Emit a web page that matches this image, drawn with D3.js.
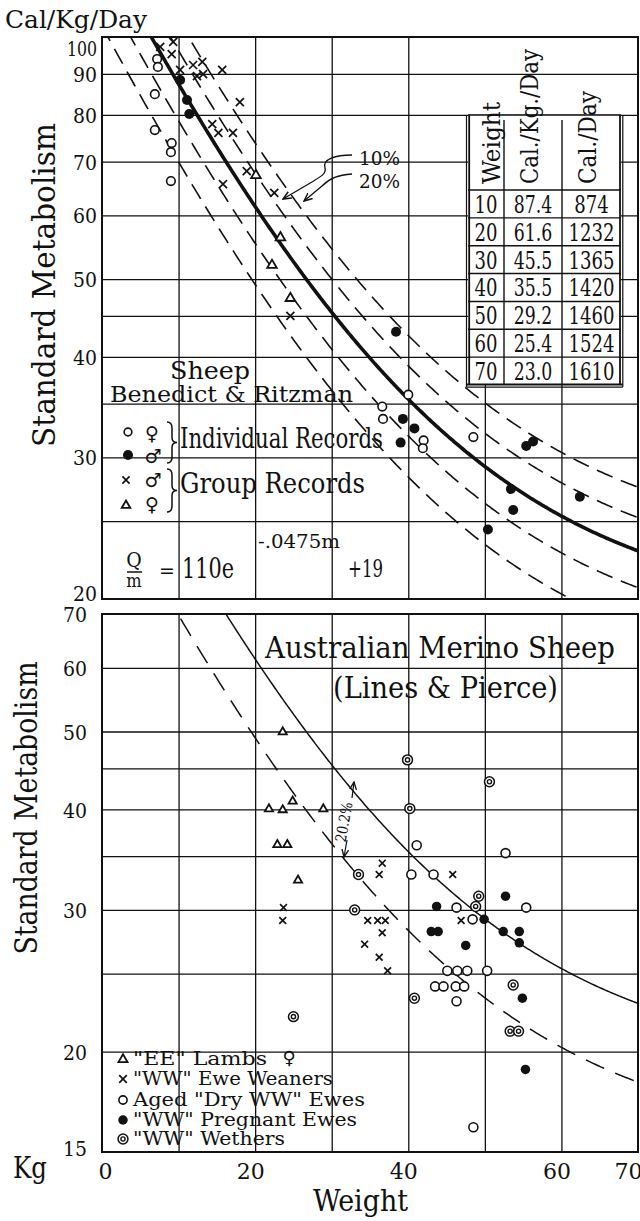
<!DOCTYPE html>
<html>
<head>
<meta charset="utf-8">
<script src="https://cdn.jsdelivr.net/npm/d3@7/dist/d3.min.js"></script>
<style>
  body { margin: 0; background: #fff; }
  svg { display: block; }
  text { font-family: 'DejaVu Serif Condensed', 'DejaVu Serif', serif; fill: #111; }
  .sym { font-family: 'DejaVu Sans', sans-serif; }
</style>
</head>
<body>
<svg id="chart" width="640" height="1221"></svg>
<script>
// fit drawn in both panels: Q/m = 110 e^(-.0475 m) + 19
var fitA = 110, fitK = 0.0475, fitC = 19;
var topBands = [1.2, 1.1, 0.9, 0.8];   // +-10%, +-20%
var lowerBand = 0.798;                 // 20.2% below

// upper panel, Benedict & Ritzman
var topYTicks = [20, 30, 40, 50, 60, 70, 80, 90, 100];
var topYGrid = [25, 30, 35, 40, 45, 50, 60, 70, 80, 90];
var topXGrid = [10, 20, 30, 40];
var topXGridShort = [50, 60];

var indivFemale = [[7.2,93.9],[7.3,91.8],[6.9,84.9],[6.9,76.6],[9.1,73.8],[9.0,71.9],[9.0,66.2],
                   [40.0,35.9],[36.6,34.7],[36.7,33.5],[42.0,31.5],[41.9,30.8],[48.5,31.8]];
var indivMale = [[10.2,88.4],[11.1,83.5],[11.4,80.2],[38.4,43.0],[39.3,33.5],[40.8,32.6],[39.0,31.3],
                 [55.4,31.0],[56.3,31.4],[53.4,27.4],[53.7,25.8],[50.4,24.4],[62.4,26.8]];
var groupMale = [[7.6,97.2],[9.1,95.2],[9.3,98.6],[10.2,91.0],[11.9,92.3],[13.1,93.1],[13.2,89.9],
                 [12.4,89.4],[15.7,91.0],[18.0,83.0],[14.4,77.9],[15.2,76.0],[17.1,76.0],[15.8,65.6],
                 [18.9,68.1],[22.5,64.0],[24.6,45.0]];
var groupFemale = [[20.1,67.4],[23.3,56.4],[22.2,52.1],[24.6,47.4]];

var tblHead = ["Weight", "Cal./Kg./Day", "Cal./Day"];
var tblWeight = ["10", "20", "30", "40", "50", "60", "70"];
var tblPerKg = ["87.4", "61.6", "45.5", "35.5", "29.2", "25.4", "23.0"];
var tblPerDay = ["874", "1232", "1365", "1420", "1460", "1524", "1610"];

// lower panel, Lines & Pierce
var botYTicks = [15, 20, 30, 40, 50, 60, 70];
var botYGrid = [20, 25, 30, 35, 40, 45, 50, 60];
var botXTicks = [0, 20, 40, 60, 70];
var botXGrid = [10, 20, 30, 40, 50, 60];

var lambs = [[23.6,50.0],[21.8,40.1],[23.6,40.0],[24.9,41.0],[28.9,40.1],[22.9,36.2],[24.2,36.2],[25.6,32.7]];
var weaners = [[23.7,30.2],[23.6,29.1],[36.6,34.3],[36.2,33.2],[45.8,33.2],[34.7,29.1],[36.0,29.1],
               [37.0,29.1],[36.6,28.1],[34.3,27.2],[36.2,26.2],[37.3,25.2],[46.9,29.1]];
var dryEwes = [[41.1,36.1],[52.7,35.3],[40.4,33.2],[43.3,33.2],[46.3,30.2],[55.4,30.2],[48.4,29.2],
               [45.1,25.2],[46.4,25.2],[47.7,25.2],[50.3,25.2],[43.5,24.1],[44.6,24.1],[46.2,24.1],
               [47.3,24.1],[46.3,23.1],[48.5,16.1]];
var pregnant = [[52.7,31.2],[43.7,30.3],[49.9,29.2],[43.0,28.2],[43.9,28.2],[52.4,28.2],[54.5,28.2],
                [47.5,27.1],[54.5,27.3],[54.9,23.3],[55.3,19.0]];
var wethers = [[39.9,46.1],[50.6,43.3],[40.2,40.1],[33.5,33.2],[33.0,30.0],[49.2,31.2],[48.8,30.3],
               [25.0,22.1],[40.8,23.3],[53.7,24.2],[53.3,21.2],[54.4,21.2]];
var botLegend = ['"EE" Lambs', '"WW" Ewe Weaners', 'Aged "Dry WW" Ewes', '"WW" Pregnant Ewes', '"WW" Wethers'];
var botLegendKind = ["tri", "cross", "open", "filled", "wether"];

var ink = "#111";
var svg = d3.select("#chart");
var defs = svg.append("defs");

var x = d3.scaleLinear().domain([0, 70]).range([102, 638]);
var yTop = d3.scaleLog().domain([20, 100]).range([599, 37]);
var yBot = d3.scaleLog().domain([15, 70]).range([1152, 614]);
var tblL = 468, tblR = 621, tblT = 115, tblHB = 190, tblB = 385;
var tblCols = [468, 504, 562, 621];

defs.append("clipPath").attr("id", "clipTop").append("rect")
    .attr("x", x(0)).attr("y", yTop(100)).attr("width", x(70) - x(0)).attr("height", yTop(20) - yTop(100));
defs.append("clipPath").attr("id", "clipBot").append("rect")
    .attr("x", x(0)).attr("y", yBot(70)).attr("width", x(70) - x(0)).attr("height", yBot(15) - yBot(70));
defs.append("marker").attr("id", "arr").attr("viewBox", "0 0 10 10")
    .attr("refX", 9).attr("refY", 5).attr("markerWidth", 7).attr("markerHeight", 7)
    .attr("orient", "auto-start-reverse")
    .append("path").attr("d", "M0,1 L9,5 L0,9").attr("fill", "none")
    .attr("stroke", ink).attr("stroke-width", 1.6);

function fit(m) { return fitA * Math.exp(-fitK * m) + fitC; }
var ms = d3.range(0, 70.001, 0.2);

function gridStyle(g, w) {
    g.select(".domain").remove();
    g.selectAll("line").attr("stroke", ink).attr("stroke-width", w);
}

function mark(g, kind, cx, cy, s) {
    if (kind === "open") {
        g.append("circle").attr("cx", cx).attr("cy", cy).attr("r", 4.3 * s)
            .attr("fill", "#fff").attr("stroke", ink).attr("stroke-width", 1.6);
    } else if (kind === "filled") {
        g.append("circle").attr("cx", cx).attr("cy", cy).attr("r", 5 * s).attr("fill", ink);
    } else if (kind === "cross") {
        var a = 4 * s;
        g.append("path").attr("d", "M" + (cx - a) + "," + (cy - a) + "L" + (cx + a) + "," + (cy + a) +
            "M" + (cx + a) + "," + (cy - a) + "L" + (cx - a) + "," + (cy + a))
            .attr("stroke", ink).attr("stroke-width", 1.7).attr("fill", "none");
    } else if (kind === "tri") {
        g.append("path").attr("d", "M" + cx + "," + (cy - 5 * s) + "L" + (cx + 4.8 * s) + "," + (cy + 3.3 * s) +
            "L" + (cx - 4.8 * s) + "," + (cy + 3.3 * s) + "Z")
            .attr("fill", "#fff").attr("stroke", ink).attr("stroke-width", 1.8);
    } else if (kind === "wether") {
        g.append("circle").attr("cx", cx).attr("cy", cy).attr("r", 5.2 * s)
            .attr("fill", "#fff").attr("stroke", ink).attr("stroke-width", 1.5);
        g.append("circle").attr("cx", cx).attr("cy", cy).attr("r", 2.2 * s)
            .attr("fill", "none").attr("stroke", ink).attr("stroke-width", 1.4);
    }
}

function label(str, px, py, size, opts) {
    opts = opts || {};
    var t = svg.append("text").attr("x", px).attr("y", py).attr("font-size", size).text(str);
    if (opts.anchor) t.attr("text-anchor", opts.anchor);
    if (opts.len) t.attr("textLength", opts.len).attr("lengthAdjust", "spacingAndGlyphs");
    if (opts.rot !== undefined) t.attr("transform", "rotate(" + opts.rot + "," + px + "," + py + ")");
    if (opts.cls) t.attr("class", opts.cls);
    return t;
}

function bracePath(x0, y1, y2, w) {
    var ym = (y1 + y2) / 2, h = w / 2;
    return "M" + x0 + "," + y1 + " Q" + (x0 + h) + "," + y1 + " " + (x0 + h) + "," + (y1 + 6) +
        " L" + (x0 + h) + "," + (ym - 5) + " Q" + (x0 + h) + "," + ym + " " + (x0 + w) + "," + ym +
        " Q" + (x0 + h) + "," + ym + " " + (x0 + h) + "," + (ym + 5) +
        " L" + (x0 + h) + "," + (y2 - 6) + " Q" + (x0 + h) + "," + y2 + " " + x0 + "," + y2;
}

// ================= upper panel =================
var gT = svg.append("g");
gT.append("g").attr("transform", "translate(" + x(0) + ",0)")
    .call(d3.axisLeft(yTop).tickValues(topYGrid).tickSize(-(x(70) - x(0))).tickFormat(""))
    .call(gridStyle, 1.3);
gT.append("g").attr("transform", "translate(0," + yTop(20) + ")")
    .call(d3.axisBottom(x).tickValues(topXGrid).tickSize(-(yTop(20) - yTop(100))).tickFormat(""))
    .call(gridStyle, 1.3);
gT.append("g").attr("transform", "translate(0," + yTop(20) + ")")
    .call(d3.axisBottom(x).tickValues(topXGridShort).tickSize(-(yTop(20) - tblB)).tickFormat(""))
    .call(gridStyle, 1.3);

// y labels
var topLab = gT.append("g").attr("transform", "translate(97,0)")
    .call(d3.axisLeft(yTop).tickValues(topYTicks).tickSize(0).tickPadding(0).tickFormat(d3.format("d")));
topLab.select(".domain").remove();
topLab.attr("font-family", null).attr("font-size", null);
topLab.selectAll("text").attr("font-size", 21).attr("fill", ink)
    .attr("dy", function (d) { return d === 100 ? "0.9em" : d === 20 ? "0.05em" : "0.36em"; })
    .attr("textLength", function (d) { return d === 100 ? 30 : 24; })
    .attr("lengthAdjust", "spacingAndGlyphs");

// table
gT.append("rect").attr("x", tblL).attr("y", tblT).attr("width", tblR - tblL).attr("height", tblB - tblT)
    .attr("fill", "#fff");
var tb = gT.append("g").attr("stroke", ink).attr("fill", "none");
tb.append("line").attr("x1", tblL).attr("x2", tblR).attr("y1", tblT).attr("y2", tblT).attr("stroke-width", 1.4);
tb.append("line").attr("x1", tblL - 1.5).attr("x2", tblL - 1.5).attr("y1", tblT).attr("y2", tblB + 2).attr("stroke-width", 1.2);
tb.append("line").attr("x1", tblL + 1.2).attr("x2", tblL + 1.2).attr("y1", tblT).attr("y2", tblB).attr("stroke-width", 1.8);
tb.append("line").attr("x1", tblR - 1).attr("x2", tblR - 1).attr("y1", tblT).attr("y2", tblB).attr("stroke-width", 1.8);
tb.append("line").attr("x1", tblR + 1.8).attr("x2", tblR + 1.8).attr("y1", tblT).attr("y2", tblB + 2).attr("stroke-width", 1.2);
tb.append("line").attr("x1", tblL - 1.5).attr("x2", tblR + 1.8).attr("y1", tblB - 0.5).attr("y2", tblB - 0.5).attr("stroke-width", 1.8);
tb.append("line").attr("x1", tblL - 1.5).attr("x2", tblR + 1.8).attr("y1", tblB + 2.2).attr("y2", tblB + 2.2).attr("stroke-width", 1.2);
[tblCols[1], tblCols[2]].forEach(function (cx) {
    tb.append("line").attr("x1", cx).attr("x2", cx).attr("y1", tblT + 5).attr("y2", tblB).attr("stroke-width", 1.4);
});
var rowH = (tblB - tblHB) / tblWeight.length;
d3.range(tblWeight.length).forEach(function (i) {
    tb.append("line").attr("x1", tblL).attr("x2", tblR).attr("y1", tblHB + i * rowH).attr("y2", tblHB + i * rowH)
        .attr("stroke-width", 1.4);
});
var headX = [500, 538, 596], headLen = [82, 135, 93];
tblHead.forEach(function (h, i) {
    label(h, headX[i], tblHB - 6, 25, { rot: -90, len: headLen[i] });
});
function numLen(s) { return s.replace(".", "").length * 11.5 + (s.indexOf(".") >= 0 ? 4 : 0); }
tblWeight.forEach(function (w, i) {
    var by = tblHB + (i + 1) * rowH - 5;
    label(w, (tblCols[0] + tblCols[1]) / 2, by, 24, { anchor: "middle", len: numLen(w) });
    label(tblPerKg[i], (tblCols[1] + tblCols[2]) / 2, by, 24, { anchor: "middle", len: numLen(tblPerKg[i]) });
    label(tblPerDay[i], (tblCols[2] + tblCols[3]) / 2, by, 24, { anchor: "middle", len: numLen(tblPerDay[i]) });
});

// curves
var lineT = d3.line().x(function (d) { return x(d[0]); }).y(function (d) { return yTop(d[1]); });
var cT = gT.append("g").attr("clip-path", "url(#clipTop)").attr("fill", "none").attr("stroke", ink);
topBands.forEach(function (b) {
    cT.append("path").attr("d", lineT(ms.map(function (m) { return [m, fit(m) * b]; })))
        .attr("stroke-width", 1.6).attr("stroke-dasharray", "17,9");
});
cT.append("path").attr("d", lineT(ms.map(function (m) { return [m, fit(m)]; })))
    .attr("stroke-width", 3.6);

// points
var pT = gT.append("g");
indivFemale.forEach(function (d) { mark(pT, "open", x(d[0]), yTop(d[1]), 1); });
indivMale.forEach(function (d) { mark(pT, "filled", x(d[0]), yTop(d[1]), 1); });
groupMale.forEach(function (d) { mark(pT, "cross", x(d[0]), yTop(d[1]), 1); });
groupFemale.forEach(function (d) { mark(pT, "tri", x(d[0]), yTop(d[1]), 1); });

// 10% / 20% leaders
gT.append("path").attr("d", "M352,155 C336,155 322,159 325,168 C327,175 318,178 300,189 L283,199")
    .attr("fill", "none").attr("stroke", ink).attr("stroke-width", 1.3).attr("marker-end", "url(#arr)");
gT.append("path").attr("d", "M352,174 C338,175 330,178 322,186 L304,201")
    .attr("fill", "none").attr("stroke", ink).attr("stroke-width", 1.3).attr("marker-end", "url(#arr)");
label("10%", 359, 165, 19, { len: 41 });
label("20%", 359, 188, 19, { len: 41 });

// legend and formula
label("Sheep", 170, 379, 24, { len: 80 });
label("Benedict & Ritzman", 110, 402, 22, { len: 243 });
mark(gT, "open", 128, 432, 0.9);
mark(gT, "filled", 128, 455, 1);
mark(gT, "cross", 126, 480, 0.9);
mark(gT, "tri", 126, 505, 0.9);
label("\u2640", 152, 440, 19, { anchor: "middle", cls: "sym" });
label("\u2642", 153, 463, 19, { anchor: "middle", cls: "sym" });
label("\u2642", 153, 487, 19, { anchor: "middle", cls: "sym" });
label("\u2640", 152, 511, 19, { anchor: "middle", cls: "sym" });
gT.append("path").attr("d", bracePath(167, 422, 463, 10)).attr("fill", "none").attr("stroke", ink).attr("stroke-width", 1.5);
gT.append("path").attr("d", bracePath(167, 469, 512, 10)).attr("fill", "none").attr("stroke", ink).attr("stroke-width", 1.5);
label("Individual Records", 180, 448, 28, { len: 203 });
label("Group Records", 180, 493, 28, { len: 185 });
label("Q", 134, 567, 21, { anchor: "middle" });
gT.append("line").attr("x1", 127).attr("x2", 142).attr("y1", 572).attr("y2", 572).attr("stroke", ink).attr("stroke-width", 1.5);
label("m", 134, 587, 18, { anchor: "middle" });
label("=", 167, 578, 21, { anchor: "middle" });
label("110e", 182, 578, 28, { len: 52 });
label("-.0475m", 258, 548, 19, { len: 82 });
label("+19", 348, 577, 25, { len: 35 });

gT.append("rect").attr("x", x(0)).attr("y", yTop(100)).attr("width", x(70) - x(0)).attr("height", yTop(20) - yTop(100))
    .attr("fill", "none").attr("stroke", ink).attr("stroke-width", 2);

label("Cal/Kg/Day", 5, 28, 25, { len: 142 });
label("Standard Metabolism", 55, 285, 31, { anchor: "middle", rot: -90, len: 324 });

// ================= lower panel =================
var gB = svg.append("g");
gB.append("g").attr("transform", "translate(" + x(0) + ",0)")
    .call(d3.axisLeft(yBot).tickValues(botYGrid).tickSize(-(x(70) - x(0))).tickFormat(""))
    .call(gridStyle, 1.3);
gB.append("g").attr("transform", "translate(0," + yBot(15) + ")")
    .call(d3.axisBottom(x).tickValues(botXGrid).tickSize(-(yBot(15) - yBot(70))).tickFormat(""))
    .call(gridStyle, 1.3);

var botLab = gB.append("g").attr("transform", "translate(87,0)")
    .call(d3.axisLeft(yBot).tickValues(botYTicks).tickSize(0).tickPadding(0).tickFormat(d3.format("d")));
botLab.select(".domain").remove();
botLab.attr("font-family", null).attr("font-size", null);
botLab.selectAll("text").attr("font-size", 21).attr("fill", ink)
    .attr("dy", function (d) { return d === 15 ? "0.15em" : "0.36em"; })
    .attr("textLength", 24).attr("lengthAdjust", "spacingAndGlyphs");

var xLab = gB.append("g").attr("transform", "translate(0,1160)")
    .call(d3.axisBottom(x).tickValues(botXTicks).tickSize(0).tickPadding(0).tickFormat(d3.format("d")));
xLab.select(".domain").remove();
xLab.attr("font-family", null).attr("font-size", null);
xLab.selectAll("text").attr("font-size", 22).attr("fill", ink).attr("dy", "0.85em")
    .attr("dx", function (d) { return d === 0 ? 3 : d === 70 ? -10 : -5; })
    .attr("textLength", function (d) { return d === 0 ? 14 : 28; })
    .attr("lengthAdjust", "spacingAndGlyphs");

var lineB = d3.line().x(function (d) { return x(d[0]); }).y(function (d) { return yBot(d[1]); });
var cB = gB.append("g").attr("clip-path", "url(#clipBot)").attr("fill", "none").attr("stroke", ink);
cB.append("path").attr("d", lineB(ms.map(function (m) { return [m, fit(m)]; }))).attr("stroke-width", 1.5);
cB.append("path").attr("d", lineB(ms.map(function (m) { return [m, fit(m) * lowerBand]; })))
    .attr("stroke-width", 1.5).attr("stroke-dasharray", "20,12");

var pB = gB.append("g");
lambs.forEach(function (d) { mark(pB, "tri", x(d[0]), yBot(d[1]), 0.85); });
weaners.forEach(function (d) { mark(pB, "cross", x(d[0]), yBot(d[1]), 0.85); });
dryEwes.forEach(function (d) { mark(pB, "open", x(d[0]), yBot(d[1]), 1.05); });
pregnant.forEach(function (d) { mark(pB, "filled", x(d[0]), yBot(d[1]), 0.95); });
wethers.forEach(function (d) { mark(pB, "wether", x(d[0]), yBot(d[1]), 0.95); });

// 20.2% arrow
label("20.2%", 349, 823, 15, { anchor: "middle", rot: -80, len: 40 });
gB.append("line").attr("x1", 347).attr("y1", 840).attr("x2", 344).attr("y2", 857)
    .attr("stroke", ink).attr("stroke-width", 1.2).attr("marker-end", "url(#arr)");
gB.append("line").attr("x1", 352).attr("y1", 798).attr("x2", 354).attr("y2", 782)
    .attr("stroke", ink).attr("stroke-width", 1.2).attr("marker-end", "url(#arr)");

label("Australian Merino Sheep", 265, 658, 30, { len: 350 });
label("(Lines & Pierce)", 333, 698, 30, { len: 225 });

// legend
var legY = [1065, 1085, 1106, 1126, 1145], legLen = [134, 200, 232, 224, 152];
botLegend.forEach(function (s, i) {
    mark(gB, botLegendKind[i], 123, legY[i] - 6, 0.95);
    label(s, 133, legY[i], 19, { len: legLen[i] });
});
label("\u2640", 289, 1064, 18, { anchor: "middle", cls: "sym" });

gB.append("rect").attr("x", x(0)).attr("y", yBot(70)).attr("width", x(70) - x(0)).attr("height", yBot(15) - yBot(70))
    .attr("fill", "none").attr("stroke", ink).attr("stroke-width", 2);

label("Standard Metabolism", 37, 808, 31, { anchor: "middle", rot: -90, len: 293 });
label("Kg", 13, 1178, 30, { len: 34 });
label("Weight", 313, 1211, 30, { len: 95 });
</script>
</body>
</html>
